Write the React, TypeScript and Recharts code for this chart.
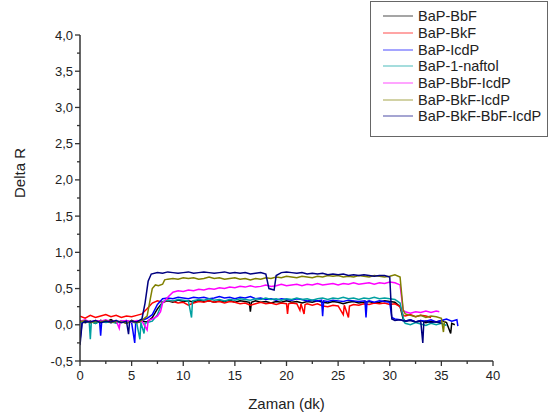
import { Legend, Line, LineChart, XAxis, YAxis } from "recharts";

// time (dk) / Delta R pairs
const bapBbF: [number, number][] = [
  [0, 0.06], [0.5, 0.03], [1, 0.05], [1.5, 0.02], [2, 0.06], [2.5, 0.04], [3, 0.07], [3.5, 0.03],
  [4, 0.05], [4.5, 0.02], [5, 0.06], [5.5, 0.03], [6, 0.05], [6.5, 0.04], [7, 0.1], [7.5, 0.22],
  [8, 0.31], [8.5, 0.33], [9, 0.31], [9.5, 0.34], [10, 0.32], [10.5, 0.33], [11, 0.31], [11.5, 0.34],
  [12, 0.32], [12.5, 0.33], [13, 0.31], [13.5, 0.33], [14, 0.32], [14.5, 0.34], [15, 0.31], [15.5, 0.33],
  [16, 0.32], [16.4, 0.31], [16.5, 0.18], [16.6, 0.31], [17, 0.33], [17.5, 0.31], [18, 0.32], [18.5, 0.3],
  [19, 0.32], [19.5, 0.31], [20, 0.33], [20.5, 0.31], [21, 0.32], [21.5, 0.3], [22, 0.32], [22.5, 0.31],
  [23, 0.33], [23.5, 0.31], [24, 0.3], [24.5, 0.32], [25, 0.31], [25.5, 0.29], [26, 0.31], [26.5, 0.32],
  [27, 0.3], [27.5, 0.31], [28, 0.32], [28.5, 0.3], [29, 0.31], [29.5, 0.33], [30, 0.32], [30.5, 0.31],
  [31, 0.25], [31.3, 0.08], [31.5, 0.05], [32, 0.07], [32.5, 0.04], [33, 0.06], [33.5, 0.03], [34, 0.05],
  [34.5, 0.04], [35, 0.06], [35.5, 0.03], [35.9, -0.12], [36, 0.02], [36.3, 0.0],
];

const bapBkF: [number, number][] = [
  [0, 0.12], [0.5, 0.09], [1, 0.13], [1.5, 0.1], [2, 0.12], [2.5, 0.14], [3, 0.11], [3.5, 0.13],
  [4, 0.1], [4.5, 0.12], [5, 0.11], [5.5, 0.13], [6, 0.15], [6.5, 0.22], [7, 0.3], [7.5, 0.33],
  [8, 0.31], [8.5, 0.34], [9, 0.32], [9.5, 0.3], [10, 0.31], [10.5, 0.27], [11, 0.3], [11.5, 0.32],
  [12, 0.31], [12.5, 0.33], [13, 0.31], [13.5, 0.32], [14, 0.3], [14.5, 0.32], [15, 0.31], [15.5, 0.29],
  [16, 0.3], [16.5, 0.27], [17, 0.29], [17.5, 0.31], [18, 0.29], [18.5, 0.3], [19, 0.28], [19.5, 0.3],
  [20, 0.29], [20.1, 0.15], [20.2, 0.29], [20.5, 0.3], [21, 0.29], [21.3, 0.2], [21.4, 0.29], [21.7, 0.15],
  [21.8, 0.28], [22, 0.29], [22.5, 0.27], [23, 0.29], [23.5, 0.26], [24, 0.25], [24.5, 0.27], [25, 0.26],
  [25.5, 0.14], [25.6, 0.27], [26, 0.1], [26.1, 0.26], [26.5, 0.28], [27, 0.27], [27.5, 0.29], [28, 0.28],
  [28.5, 0.3], [29, 0.29], [29.5, 0.3], [30, 0.28], [30.5, 0.29], [31, 0.25], [31.3, 0.13], [31.5, 0.12],
  [32, 0.14], [32.5, 0.11], [33, 0.13], [33.5, 0.12], [34, 0.1],
];

const bapIcdP: [number, number][] = [
  [0, -0.22], [0.2, 0.03], [0.5, 0.05], [1, 0.03], [1.5, 0.06], [1.9, 0.04], [2, -0.15], [2.1, 0.04],
  [2.5, 0.05], [3, 0.03], [3.5, 0.05], [4, 0.04], [4.5, 0.06], [5, 0.03], [5.3, -0.25], [5.4, 0.04],
  [6, 0.06], [6.5, 0.09], [7, 0.14], [7.5, 0.28], [8, 0.36], [8.5, 0.37], [9, 0.36], [9.5, 0.38],
  [10, 0.37], [10.5, 0.36], [11, 0.38], [11.5, 0.37], [12, 0.38], [12.5, 0.36], [13, 0.37], [13.5, 0.39],
  [14, 0.37], [14.5, 0.38], [15, 0.36], [15.5, 0.38], [16, 0.37], [16.5, 0.39], [17, 0.36], [17.5, 0.37],
  [18, 0.35], [18.5, 0.36], [19, 0.34], [19.5, 0.36], [20, 0.35], [20.5, 0.34], [21, 0.36], [21.5, 0.35],
  [22, 0.33], [22.5, 0.34], [23, 0.33], [23.4, 0.34], [23.5, 0.12], [23.6, 0.33], [24, 0.32], [24.5, 0.34],
  [25, 0.33], [25.5, 0.32], [26, 0.34], [26.5, 0.33], [27, 0.32], [27.6, 0.33], [27.7, 0.1], [27.8, 0.32],
  [28, 0.33], [28.5, 0.31], [29, 0.33], [29.5, 0.32], [30, 0.31], [30.2, 0.1], [30.5, 0.08], [31, 0.07],
  [31.5, 0.05], [32, 0.07], [32.5, 0.04], [33, 0.06], [33.5, 0.05], [34, 0.07], [34.5, 0.04], [35, 0.06],
  [35.5, 0.08], [36, 0.05], [36.5, 0.07], [36.6, -0.02],
];

const bapNaftol: [number, number][] = [
  [0, 0.03], [0.5, 0.05], [0.9, 0.03], [1, -0.2], [1.1, 0.04], [1.5, 0.02], [2, 0.05], [2.5, 0.03],
  [3, 0.04], [3.5, 0.02], [4, 0.05], [4.5, 0.03], [5, 0.04], [5.5, 0.02], [5.8, -0.2], [5.9, 0.03],
  [6.2, -0.12], [6.3, 0.02], [6.5, 0.03], [7, 0.05], [7.5, 0.14], [8, 0.32], [8.5, 0.34], [9, 0.33],
  [9.5, 0.35], [10, 0.34], [10.5, 0.33], [10.8, 0.1], [10.9, 0.33], [11.5, 0.35], [12, 0.34], [12.5, 0.36],
  [13, 0.34], [13.5, 0.35], [14, 0.33], [14.5, 0.35], [15, 0.34], [15.5, 0.36], [16, 0.35], [16.5, 0.34],
  [17, 0.36], [17.5, 0.35], [18, 0.37], [18.5, 0.35], [19, 0.36], [19.5, 0.34], [20, 0.36], [20.5, 0.35],
  [21, 0.37], [21.5, 0.35], [22, 0.36], [22.5, 0.34], [23, 0.36], [23.5, 0.37], [24, 0.35], [24.5, 0.37],
  [25, 0.36], [25.5, 0.38], [26, 0.36], [26.5, 0.37], [27, 0.35], [27.5, 0.37], [28, 0.36], [28.5, 0.38],
  [29, 0.36], [29.5, 0.37], [30, 0.36], [30.5, 0.35], [31, 0.3], [31.4, 0.04], [31.5, 0.02], [32, 0.0],
  [32.5, 0.03], [33, 0.01], [33.5, -0.01], [34, 0.02], [34.5, 0.0], [35, 0.02], [35.5, -0.01],
];

const bapBbFIcdP: [number, number][] = [
  [0, 0.05], [0.5, 0.07], [1, 0.04], [1.5, 0.06], [2, 0.05], [2.5, 0.07], [3, 0.04], [3.5, 0.06],
  [3.8, -0.05], [3.9, 0.05], [4.5, 0.06], [5, 0.04], [5.5, 0.06], [6, 0.05], [6.5, -0.07], [6.6, 0.06],
  [7, 0.08], [7.5, 0.12], [7.8, 0.18], [8, 0.3], [8.5, 0.38], [9, 0.45], [9.5, 0.47], [10, 0.46],
  [10.5, 0.48], [11, 0.47], [11.5, 0.49], [12, 0.48], [12.5, 0.5], [13, 0.49], [13.5, 0.51], [14, 0.5],
  [14.5, 0.52], [15, 0.51], [15.5, 0.53], [16, 0.52], [16.5, 0.54], [17, 0.52], [17.5, 0.53], [18, 0.55],
  [18.5, 0.53], [19, 0.54], [19.5, 0.56], [20, 0.54], [20.5, 0.55], [21, 0.56], [21.5, 0.54], [22, 0.56],
  [22.5, 0.55], [23, 0.57], [23.5, 0.55], [24, 0.56], [24.5, 0.57], [25, 0.55], [25.5, 0.57], [26, 0.56],
  [26.5, 0.58], [27, 0.56], [27.5, 0.57], [28, 0.58], [28.5, 0.56], [29, 0.58], [29.5, 0.57], [30, 0.59],
  [30.5, 0.58], [31, 0.55], [31.3, 0.2], [31.5, 0.18], [32, 0.16], [32.5, 0.18], [33, 0.17], [33.5, 0.19],
  [34, 0.17], [34.5, 0.19], [34.8, 0.18],
];

const bapBkFIcdP: [number, number][] = [
  [0, 0.04], [0.5, 0.06], [1, 0.03], [1.5, 0.05], [2, 0.04], [2.5, 0.06], [3, 0.03], [3.5, 0.05],
  [4, 0.04], [4.5, 0.02], [5, 0.05], [5.5, 0.03], [6, 0.06], [6.5, 0.12], [6.8, 0.35], [7, 0.5],
  [7.3, 0.55], [7.6, 0.54], [8, 0.56], [8.2, 0.62], [8.5, 0.63], [9, 0.64], [9.5, 0.63], [10, 0.65],
  [10.5, 0.64], [11, 0.65], [11.5, 0.63], [12, 0.64], [12.5, 0.66], [13, 0.64], [13.5, 0.65], [14, 0.63],
  [14.5, 0.64], [15, 0.65], [15.5, 0.63], [16, 0.64], [16.5, 0.62], [17, 0.64], [17.5, 0.63], [18, 0.65],
  [18.5, 0.64], [19, 0.66], [19.5, 0.65], [20, 0.67], [20.5, 0.66], [21, 0.65], [21.5, 0.67], [22, 0.66],
  [22.5, 0.65], [23, 0.67], [23.5, 0.66], [24, 0.68], [24.5, 0.67], [25, 0.68], [25.5, 0.66], [26, 0.67],
  [26.5, 0.66], [27, 0.68], [27.5, 0.67], [28, 0.66], [28.5, 0.68], [29, 0.67], [29.5, 0.66], [30, 0.67],
  [30.5, 0.69], [31, 0.66], [31.3, 0.2], [31.5, 0.15], [32, 0.13], [32.5, 0.11], [33, 0.13], [33.5, 0.1],
  [34, 0.12], [34.5, 0.11], [35, 0.09], [35.2, -0.1], [35.3, 0.05],
];

const bapBkFBbFIcdP: [number, number][] = [
  [0, -0.28], [0.2, 0.02], [0.5, 0.05], [1, 0.04], [1.5, 0.06], [2, 0.03], [2.5, 0.05], [3, 0.04],
  [3.5, 0.06], [4, 0.03], [4.5, 0.05], [4.7, -0.13], [4.8, 0.04], [5, 0.05], [5.5, 0.04], [6, 0.08],
  [6.3, 0.3], [6.6, 0.6], [6.9, 0.7], [7.5, 0.72], [8, 0.71], [8.5, 0.73], [9, 0.72], [9.5, 0.71],
  [10, 0.72], [10.5, 0.73], [11, 0.71], [11.5, 0.72], [12, 0.73], [12.5, 0.72], [13, 0.71], [13.5, 0.72],
  [14, 0.73], [14.5, 0.71], [15, 0.72], [15.5, 0.71], [16, 0.72], [16.5, 0.7], [17, 0.71], [17.5, 0.72],
  [18, 0.7], [18.3, 0.5], [18.8, 0.48], [19, 0.68], [19.5, 0.72], [20, 0.73], [20.5, 0.72], [21, 0.71],
  [21.5, 0.72], [22, 0.7], [22.5, 0.71], [23, 0.7], [23.5, 0.71], [24, 0.69], [24.5, 0.7], [25, 0.69],
  [25.5, 0.7], [26, 0.68], [26.5, 0.69], [27, 0.68], [27.5, 0.69], [28, 0.68], [28.5, 0.67], [29, 0.68],
  [29.5, 0.68], [30, 0.66], [30.2, 0.08], [30.5, 0.06], [31, 0.07], [31.5, 0.05], [32, 0.06], [32.5, 0.04],
  [33, 0.05], [33.2, -0.25], [33.3, 0.04], [33.5, 0.05], [34, 0.03], [34.5, 0.04], [35, 0.02],
];

const seriesNames = [
  "BaP-BbF",
  "BaP-BkF",
  "BaP-IcdP",
  "BaP-1-naftol",
  "BaP-BbF-IcdP",
  "BaP-BkF-IcdP",
  "BaP-BkF-BbF-IcdP",
];
const seriesData = [bapBbF, bapBkF, bapIcdP, bapNaftol, bapBbFIcdP, bapBkFIcdP, bapBkFBbFIcdP];
const colors = ["#000000", "#ff0000", "#0000ff", "#00a0a0", "#ff00ff", "#808000", "#000080"];

const xTicks = [0, 2.5, 5, 7.5, 10, 12.5, 15, 17.5, 20, 22.5, 25, 27.5, 30, 32.5, 35, 37.5, 40];
const yTicks = [-0.5, -0.25, 0, 0.25, 0.5, 0.75, 1, 1.25, 1.5, 1.75, 2, 2.25, 2.5, 2.75, 3, 3.25, 3.5, 3.75, 4];

const FONT = "Arial, 'Liberation Sans', sans-serif";
const AXIS = "#333333";

const XTick = (props: any) => {
  const { x, y, payload } = props;
  const major = payload.value % 5 === 0;
  return (
    <g>
      <line x1={x} x2={x} y1={y} y2={y + (major ? 5 : 3)} stroke={AXIS} strokeWidth={1.3} />
      {major && (
        <text x={x} y={y + 19} textAnchor="middle" fontSize={13} fill="#222" fontFamily={FONT}>
          {payload.value}
        </text>
      )}
    </g>
  );
};

const YTick = (props: any) => {
  const { x, y, payload } = props;
  const v = payload.value;
  const major = Math.abs(v * 2 - Math.round(v * 2)) < 1e-6;
  return (
    <g>
      <line x1={x - (major ? 5 : 3)} x2={x} y1={y} y2={y} stroke={AXIS} strokeWidth={1.3} />
      {major && (
        <text x={x - 7} y={y + 4.5} textAnchor="end" fontSize={13} fill="#222" fontFamily={FONT}>
          {v.toFixed(1).replace(".", ",")}
        </text>
      )}
    </g>
  );
};

// Origin-style boxed legend, top right
const LegendBox = () => (
  <div
    style={{
      width: 178,
      height: 136,
      border: "1px solid #666",
      background: "#fff",
      boxSizing: "border-box",
      fontFamily: FONT,
      fontSize: 14.5,
      color: "#222",
      paddingTop: 6,
    }}
  >
    {seriesNames.map((name, i) => (
      <div key={name} style={{ display: "flex", alignItems: "center", height: 16.7 }}>
        <svg width={30} height={4} style={{ marginLeft: 12, marginRight: 5 }}>
          <line x1={0} x2={30} y1={2} y2={2} stroke={colors[i]} strokeWidth={1} opacity={0.7} />
        </svg>
        <span>{name}</span>
      </div>
    ))}
  </div>
);

export default function App() {
  return (
    <div style={{ position: "absolute", left: 0, top: 0, width: 556, height: 418, background: "#fff" }}>
      <LineChart width={556} height={418} margin={{ top: 35, right: 63, bottom: 0, left: 0 }}>
        <XAxis
          dataKey="t"
          type="number"
          domain={[0, 40]}
          ticks={xTicks}
          interval={0}
          allowDataOverflow
          height={57}
          tickSize={0}
          tickMargin={0}
          tickLine={false}
          tick={<XTick />}
          axisLine={{ stroke: AXIS, strokeWidth: 1.5 }}
          label={{ value: "Zaman (dk)", position: "insideBottom", offset: 9, fontSize: 15, fill: "#222", fontFamily: FONT }}
        />
        <YAxis
          type="number"
          domain={[-0.5, 4]}
          ticks={yTicks}
          interval={0}
          allowDataOverflow
          width={80}
          tickSize={0}
          tickMargin={0}
          tickLine={false}
          tick={<YTick />}
          axisLine={{ stroke: AXIS, strokeWidth: 1.5 }}
          label={{ value: "Delta R", angle: -90, position: "insideLeft", offset: 20, fontSize: 15, fill: "#222", fontFamily: FONT }}
        />
        <Legend
          layout="horizontal"
          verticalAlign="middle"
          align="center"
          content={<LegendBox />}
          wrapperStyle={{ position: "absolute", left: 370, top: 1, width: 178, height: 136 }}
        />
        {seriesData.map((s, i) => (
          <Line
            key={seriesNames[i]}
            name={seriesNames[i]}
            data={s.map(([t, v]) => ({ t, v }))}
            dataKey="v"
            stroke={colors[i]}
            strokeWidth={1.5}
            dot={false}
            type="linear"
            isAnimationActive={false}
          />
        ))}
      </LineChart>
    </div>
  );
}
